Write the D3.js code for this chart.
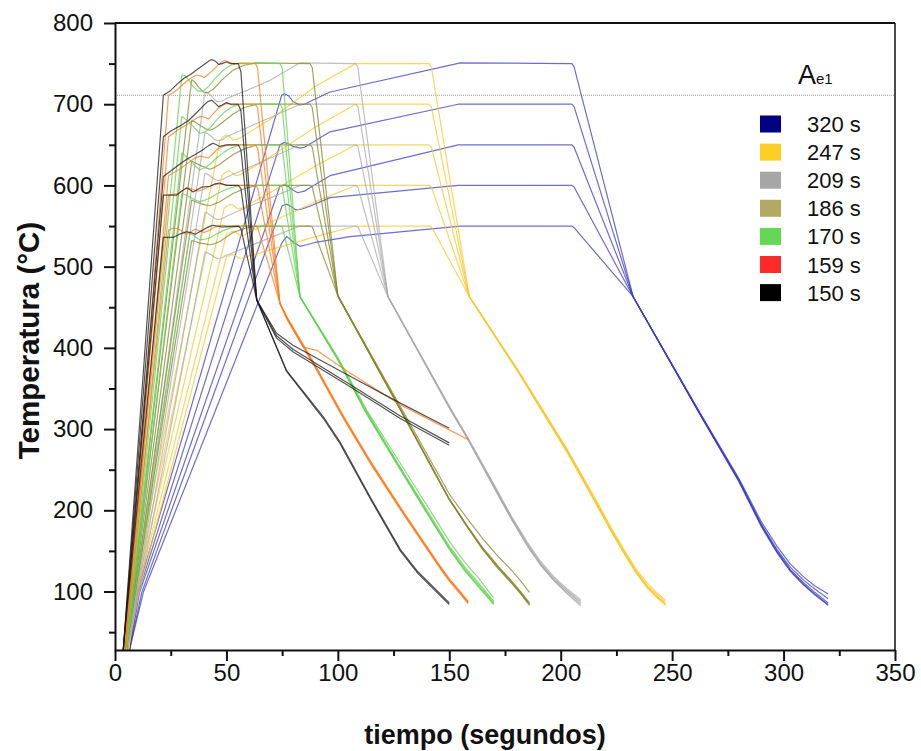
<!DOCTYPE html>
<html>
<head>
<meta charset="UTF-8">
<script src="https://d3js.org/d3.v7.min.js"></script>
<style>
  body { margin: 0; background: #fff; }
  svg text { font-family: "Liberation Sans", Arial, sans-serif; }
</style>
</head>
<body>
<div id="my_dataviz"></div>
<script>

// legend labels (total cycle time)
var seriesNames = ["320 s", "247 s", "209 s", "186 s", "170 s", "159 s", "150 s"];
var legendColors = ["#000080", "#fccf27", "#a6a6a6", "#b0ab60", "#64d854", "#ff2a2a", "#000000"];
var lineColors = ["#3b3bbf", "#f8c72a", "#a9a9a9", "#86862e", "#62d050", "#ff7a1a", "#1a1a1a"];

var xTicks = [0, 50, 100, 150, 200, 250, 300, 350];
var yTicks = [100, 200, 300, 400, 500, 600, 700, 800];
var ae1 = 711;

// [tiempo, temperatura], one list per hold temperature (750..550)
var c320 = [
  [[6.5,28],[10,99],[74.8,711],[76,713],[78,710],[80,703],[83,699],[85,700],[88,704],[96.5,715],[155,751],[205,750],[206,746],[232.5,463],[262.5,318],[280,235],[290,180],[297,148],[303,125],[309,108],[314,96],[320,83]],
  [[6.5,28],[10.5,99],[74,650],[76,653],[78,651],[80,648],[83,646],[85,647],[88,652],[96.5,666],[154,700],[205,700],[206,697],[232.5,463],[262.5,318],[280,236],[290,181],[297,149],[303,126],[309,109],[314,97],[320,84]],
  [[6.5,28],[11,99],[74,599],[76,601],[78,598],[80,594],[82,591],[85,593],[88,598],[96.5,612],[154,650],[205,650],[206,647],[232.5,463],[262.5,319],[280,237],[290,182],[297,150],[303,127],[309,111],[314,99],[320,86]],
  [[6.5,28],[12,99],[75,575],[77,577],[79,574],[81,570],[84,571],[88,575],[96.5,585],[154,600],[205,600],[206,598],[232.5,463],[262.5,319],[280,237],[290,183],[297,152],[303,130],[309,114],[314,103],[320,91]],
  [[6.5,28],[12.7,99],[75,530],[77,537],[78.5,534],[80,530],[83,525],[86,527],[90,530],[105.5,537],[155,550],[205,550],[206,548],[232.5,463],[262.5,320],[280,239],[290,186],[297,156],[303,134],[309,118],[314,107],[320,97]]
];
var c247 = [
  [[6,28],[8.5,99],[47,655],[48.5,660],[50,662],[51.5,660],[53,656],[55,657],[57,660],[70,682],[90,722],[108,750],[141,750],[142,745],[159,463],[181,370],[202.7,272],[215,212],[223,172],[229,144],[234,122],[239,104],[243,93],[247,83]],
  [[6,28],[9,99],[48,612],[49.5,616],[51,618],[52.5,616],[54,612],[56,613],[58,616],[70,636],[90,672],[108,700],[141,700],[142,696],[159,463],[181,370],[202.7,273],[215,213],[223,173],[229,145],[234,123],[239,105],[243,94],[247,84]],
  [[6,28],[9.5,99],[49,572],[50.5,575],[52,577],[53.5,575],[55,571],[57,572],[59,575],[70,592],[90,624],[108,650],[141,650],[142,647],[159,463],[181,371],[202.7,274],[215,214],[223,174],[229,146],[234,124],[239,106],[243,95],[247,85]],
  [[6,28],[10,99],[50,540],[51.5,542],[53,544],[54.5,542],[56,538],[58,539],[60,542],[70,555],[90,580],[108,600],[141,600],[142,598],[159,463],[181,371],[202.7,275],[215,215],[223,175],[229,147],[234,125],[239,107],[243,97],[247,87]],
  [[6,28],[10.7,99],[50,512],[51.5,514],[53,515],[54.5,513],[56,510],[58,511],[60,513],[70,521],[90,537],[108,550],[141,550],[142,549],[159,463],[181,372],[202.7,276],[215,217],[223,177],[229,149],[234,127],[239,110],[243,99],[247,89]]
];
var c209 = [
  [[5.5,28],[40.4,715],[41.5,714],[43,711],[44.5,706],[46,703],[48,704],[50,707],[60,718],[70,730],[83,751],[108,750],[109,745],[122.5,463],[150.5,324],[157.8,290],[170,228],[178,188],[185,156],[191,132],[197,113],[203,97],[209,82]],
  [[5.5,28],[40.4,665],[41.5,664],[43,661],[44.5,657],[46,655],[48,656],[50,660],[60,672],[70,684],[83,700],[108,700],[109,697],[122.5,463],[150.5,324],[157.8,290],[170,229],[178,189],[185,157],[191,133],[197,114],[203,98],[209,84]],
  [[5.5,28],[40.4,615],[41.5,614],[43,611],[44.5,608],[46,606],[48,607],[50,610],[60,622],[70,634],[83,650],[108,650],[109,648],[122.5,463],[150.5,325],[157.8,291],[170,230],[178,190],[185,158],[191,134],[197,115],[203,100],[209,86]],
  [[5.5,28],[40.4,567],[41.5,566],[43,563],[44.5,560],[46,558],[48,559],[50,562],[60,574],[70,585],[83,600],[108,600],[109,598],[122.5,463],[150.5,325],[157.8,291],[170,231],[178,191],[185,159],[191,135],[197,116],[203,101],[209,88]],
  [[5.5,28],[40.4,518],[41.5,517],[43,515],[44.5,512],[46,510],[48,511],[50,514],[60,525],[70,536],[83,550],[108,550],[109,549],[122.5,463],[150.5,326],[157.8,292],[170,232],[178,192],[185,161],[191,137],[197,118],[203,103],[209,90]]
];
var c186 = [
  [[5,28],[34.4,730],[36,727],[37.5,721],[39.6,715],[41.5,714],[44,718],[48,730],[53,742],[58,748],[63.6,751],[87.5,750],[88.5,745],[100,464],[128,324],[150,213],[158,180],[165,152],[172,128],[178,110],[182,97],[186,83]],
  [[5,28],[34.4,680],[36,678],[38,674],[40.5,670],[42.6,668],[44.5,670],[47,675],[53,688],[58,696],[63.6,700],[87.5,700],[88.5,696],[100,464],[128,324],[150,213],[158,180],[165,152],[172,129],[178,111],[182,98],[186,84]],
  [[5,28],[34.4,630],[36,628],[38,625],[40.5,622],[42.6,620],[44.5,622],[47,626],[53,638],[58,645],[63.6,650],[87.5,650],[88.5,647],[100,464],[128,325],[150,214],[158,181],[165,153],[172,130],[178,112],[182,99],[186,85]],
  [[5,28],[34.4,582],[36,580],[38,578],[40.5,576],[42.6,575],[44.5,577],[47,580],[53,590],[58,596],[63.6,600],[87.5,600],[88.5,598],[100,464],[128,325],[150,214],[158,181],[165,154],[172,131],[178,113],[182,100],[186,86]],
  [[5,28],[34.4,532],[36,531],[38,529],[40.5,528],[42.6,527],[44.5,528],[47,531],[53,542],[58,547],[63.6,550],[87.5,550],[88.5,549],[100,464],[128,328],[150,220],[158,190],[165,165],[172,143],[178,126],[182,113],[186,99]]
];
var c170 = [
  [[5,28],[30,736],[31.5,735],[33,730],[35,722],[37.4,716],[39.5,716],[42,722],[45,732],[48.6,742],[52,748],[56,751],[74,750],[75,745],[83,463],[100,385],[113,318],[128,250],[140,196],[150,152],[157,125],[163,106],[170,84]],
  [[5,28],[30,685],[32,681],[34,676],[36,670],[38,664],[40.5,666],[43,672],[46,682],[49,690],[52,696],[56,700],[74,700],[75,696],[83,463],[100,386],[113,319],[128,251],[140,197],[150,153],[157,126],[163,107],[170,85]],
  [[5,28],[30,640],[32,635],[34,630],[36,624],[38,619],[40.5,622],[43,627],[46,635],[49,641],[52,646],[56,650],[74,650],[75,647],[83,463],[100,386],[113,320],[128,252],[140,198],[150,154],[157,128],[163,109],[170,86]],
  [[5,28],[30,590],[32,588],[34,585],[36,582],[38,580],[40.5,582],[43,585],[46,590],[49,594],[52,597],[56,600],[74,600],[75,598],[83,463],[100,387],[113,321],[128,253],[140,200],[150,156],[157,130],[163,111],[170,88]],
  [[5,28],[33.6,541],[35,539],[36.5,536],[38,533],[40.5,534],[43,536],[46,541],[49,545],[52,548],[56,550],[74,550],[75,549],[83,463],[100,388],[113,323],[128,258],[140,206],[150,162],[157,136],[163,117],[170,92]]
];
var c159 = [
  [[4.5,28],[24,711],[26,714],[28,718],[30,723],[32,728],[34.5,733],[36.7,736],[38.5,735],[40,733],[42,737],[44,742],[46.5,749],[49,754],[51,752],[53,750],[63,750],[64,744],[74,455],[80,422],[84.5,401],[90.5,397],[98,383],[105.5,369],[128,330],[158.5,287]],
  [[4.5,28],[24,660],[28,668],[30.5,672],[33,676],[35.5,681],[38,685],[40,684],[42,682],[44,688],[46,694],[48,698],[50,701],[53,699],[56,700],[63,700],[64,695],[74,455],[77,436],[90,375],[102.5,313],[115,256],[128,201],[140,152],[146,128],[150,113],[154,100],[158.5,85]],
  [[4.5,28],[24,612],[26.5,616],[29,620],[31.5,625],[34,630],[36,634],[38,636],[40,635],[42,634],[44,639],[46,645],[48.5,648],[51,650],[63,650],[64,646],[74,455],[77,437],[90,376],[102.5,314],[115,257],[128,202],[140,153],[146,129],[150,114],[154,101],[158.5,86]],
  [[4.5,28],[24,588],[26,589],[28,590],[30.5,594],[33,597],[35,595],[37,593],[39.5,595],[42,598],[44.5,601],[47,602],[49,601],[51,600],[63,600],[64,597],[74,455],[77,438],[90,377],[102.5,315],[115,258],[128,203],[140,154],[146,130],[150,115],[154,102],[158.5,87]],
  [[4.5,28],[24,545],[26,547],[28,547],[30,544],[32,540],[34,543],[36,546],[38,544],[40,542],[42.5,545],[45,549],[48,551],[51,550],[63,550],[64,548],[74,455],[77,439],[90,378],[102.5,316],[115,259],[128,204],[140,155],[146,131],[150,116],[154,103],[158.5,88]]
];
var c150 = [
  [[3.7,28],[21.7,711],[25,717],[28,725],[31,732],[34,737],[37,743],[40,749],[42,753],[43.4,755],[45,753],[46.5,749],[48,750],[50,752],[52,750],[55.3,750],[56.5,740],[63.6,459],[72.5,418],[80,403],[105.5,365],[128,332],[150,301]],
  [[3.7,28],[21.7,660],[25,667],[29,673],[33,680],[36,688],[39.6,698],[41.5,703],[43.4,705],[45,701],[46.5,697],[48,699],[50,702],[52,700],[55.3,700],[56.5,692],[63.6,459],[72.5,415],[80,398],[105.5,355],[128,316],[150,283]],
  [[3.7,28],[21.7,611],[26,620],[29,626],[32,632],[36,638],[40,645],[42,649],[44,652],[45.5,650],[47,648],[50,650],[55.3,650],[56.5,644],[63.6,459],[72.5,412],[80,395],[105.5,352],[128,313],[150,280]],
  [[3.7,28],[21.7,588],[24.5,588],[27.6,588],[30,593],[32,597],[33.5,595],[35,592],[37,595],[39,598],[42.6,599],[45,602],[47,603],[50,600],[55.3,600],[56.5,596],[63.6,459],[77,371],[93.5,313],[101,282],[115,212],[128,150],[136,122],[143,103],[150,84]],
  [[3.7,28],[21.7,536],[26,536],[29,540],[32,543],[34,542],[36,540],[38,543],[40,546],[42,549],[44,551],[48,549],[55.3,550],[56.5,547],[63.6,459],[77,372],[93.5,315],[101,284],[115,214],[128,152],[136,124],[143,105],[150,86]]
];
var allCurves = [c320, c247, c209, c186, c170, c159, c150];

var margin = {top: 23, right: 26, bottom: 101, left: 115},
    width = 921 - margin.left - margin.right,
    height = 751 - margin.top - margin.bottom;

var svg = d3.select("#my_dataviz")
  .append("svg")
    .attr("width", 921)
    .attr("height", 751)
  .append("g")
    .attr("transform", "translate(" + margin.left + "," + margin.top + ")");

var x = d3.scaleLinear().domain([0, 350]).range([0, width]);
var y = d3.scaleLinear().domain([28, 800]).range([height, 0]);

svg.append("clipPath").attr("id", "clip")
  .append("rect").attr("width", width).attr("height", height);

// Ae1 line
svg.append("line")
  .attr("x1", 0).attr("x2", width)
  .attr("y1", y(ae1)).attr("y2", y(ae1))
  .attr("stroke", "#9a9a9a").attr("stroke-width", 1)
  .attr("stroke-dasharray", "1,1");

var line = d3.line()
  .x(function(d) { return x(d[0]); })
  .y(function(d) { return y(d[1]); });

var plot = svg.append("g").attr("clip-path", "url(#clip)");
allCurves.forEach(function(group, i) {
  plot.selectAll(null)
    .data(group)
    .enter()
    .append("path")
      .attr("d", line)
      .attr("fill", "none")
      .attr("stroke", lineColors[i])
      .attr("stroke-width", 1.2)
      .attr("stroke-linejoin", "round")
      .attr("stroke-opacity", 0.75);
});

// frame
svg.append("line").attr("x1", 0).attr("x2", width).attr("y1", 0).attr("y2", 0)
  .attr("stroke", "#111").attr("stroke-width", 2);
svg.append("line").attr("x1", width).attr("x2", width).attr("y1", 0).attr("y2", height)
  .attr("stroke", "#111").attr("stroke-width", 1.5);

// minor ticks
svg.append("g")
  .attr("transform", "translate(0," + height + ")")
  .call(d3.axisBottom(x).tickValues(d3.range(25, 350, 50)).tickSize(6).tickFormat(""))
  .call(function(g) { g.select(".domain").remove(); });
svg.append("g")
  .call(d3.axisLeft(y).tickValues(d3.range(50, 800, 100)).tickSize(6).tickFormat(""))
  .call(function(g) { g.select(".domain").remove(); });

// axes
var xAxis = svg.append("g")
  .attr("transform", "translate(0," + height + ")")
  .call(d3.axisBottom(x).tickValues(xTicks).tickSize(11).tickSizeOuter(0).tickPadding(3));
var yAxis = svg.append("g")
  .call(d3.axisLeft(y).tickValues(yTicks).tickSize(11).tickSizeOuter(0).tickPadding(11));

[xAxis, yAxis].forEach(function(g) {
  g.selectAll("path, line").attr("stroke", "#111").attr("stroke-width", 2);
  g.selectAll("text").attr("font-size", 24).attr("fill", "#111")
    .attr("font-family", "'Liberation Sans', Arial, sans-serif");
});
svg.selectAll(".tick line").attr("stroke", "#111").attr("stroke-width", 2);

// axis titles
svg.append("text")
  .attr("x", width / 2 - 20).attr("y", height + 94)
  .attr("text-anchor", "middle")
  .attr("font-size", 27).attr("font-weight", "bold").attr("fill", "#111")
  .text("tiempo (segundos)");
svg.append("text")
  .attr("transform", "translate(" + (-76) + "," + (height / 2 + 4) + ")rotate(-90)")
  .attr("text-anchor", "middle")
  .attr("font-size", 29.5).attr("font-weight", "bold").attr("fill", "#111")
  .text("Temperatura (°C)");

// Ae1 label
var ae1Label = svg.append("text").attr("x", 683).attr("y", 61).attr("fill", "#111");
ae1Label.append("tspan").attr("font-size", 27).text("A");
ae1Label.append("tspan").attr("font-size", 15).text("e1");

// legend
var legend = svg.selectAll(".legend")
  .data(seriesNames)
  .enter()
  .append("g")
    .attr("transform", function(d, i) { return "translate(645," + (101 + i * 28.1) + ")"; });
legend.append("rect")
  .attr("x", 0).attr("y", -8.5).attr("width", 21).attr("height", 17)
  .attr("fill", function(d, i) { return legendColors[i]; });
legend.append("text")
  .attr("x", 47).attr("y", 8)
  .attr("font-size", 22).attr("fill", "#111")
  .text(function(d) { return d; });

</script>
</body>
</html>
